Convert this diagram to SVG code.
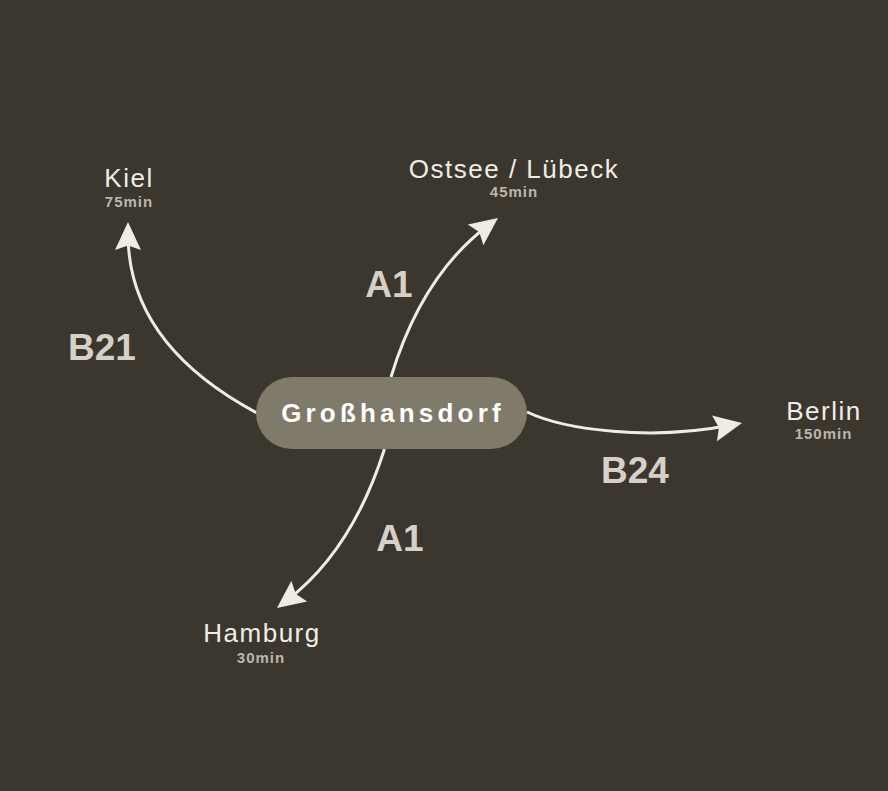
<svg xmlns="http://www.w3.org/2000/svg" width="888" height="791" viewBox="0 0 888 791">
  <defs>
    <style>
      .bg { fill: #3b372e; }
      .conn { fill: none; stroke: #efebe5; stroke-width: 3; }
      .pill { fill: #7f7a6a; }
      .hub { font-family: "Liberation Sans", Arial, sans-serif; font-weight: bold; font-size: 26px; letter-spacing: 4.2px; fill: #ffffff; text-anchor: middle; }
      .dest { font-family: "Liberation Sans", Arial, sans-serif; font-size: 26px; letter-spacing: 1.5px; fill: #f0ede7; text-anchor: middle; }
      .time { font-family: "Liberation Sans", Arial, sans-serif; font-weight: bold; font-size: 15px; letter-spacing: 1px; fill: #bcb6ac; text-anchor: middle; }
      .road { font-family: "Liberation Sans", Arial, sans-serif; font-weight: bold; font-size: 37px; fill: #d6d0c8; text-anchor: middle; }
    </style>
    <marker id="arrow" markerUnits="userSpaceOnUse" markerWidth="40" markerHeight="40" viewBox="-20 -20 40 40" refX="0" refY="0" orient="auto" overflow="visible">
      <path d="M12,0 L-16,-13 L-11.5,0 L-16,13 Z" fill="#efebe5"/>
    </marker>
  </defs>
  <rect class="bg" x="0" y="0" width="888" height="791"/>

  <g id="connectors">
    <path class="conn" d="M257,413 Q128,344 128,234" marker-end="url(#arrow)"/>
    <path class="conn" d="M391,377 Q422,275 488.4,225.2" marker-end="url(#arrow)"/>
    <path class="conn" d="M527,412 C565,430 650,441 730.2,425.3" marker-end="url(#arrow)"/>
    <path class="conn" d="M384.5,449 Q352,551 286.5,600.7" marker-end="url(#arrow)"/>
  </g>

  <g id="labels">
    <text class="road" x="102" y="360">B21</text>
    <text class="road" x="389" y="297">A1</text>
    <text class="road" x="635" y="483">B24</text>
    <text class="road" x="400" y="551">A1</text>
  </g>

  <g id="hub">
    <rect class="pill" x="256" y="377" width="271" height="72" rx="36" ry="36"/>
    <text class="hub" x="393" y="422">Großhansdorf</text>
  </g>

  <g id="kiel">
    <text class="dest" x="129" y="187">Kiel</text>
    <text class="time" x="129" y="207">75min</text>
  </g>
  <g id="ostsee">
    <text class="dest" x="514" y="178">Ostsee / Lübeck</text>
    <text class="time" x="514" y="197">45min</text>
  </g>
  <g id="berlin">
    <text class="dest" x="824" y="420">Berlin</text>
    <text class="time" x="823.5" y="439">150min</text>
  </g>
  <g id="hamburg">
    <text class="dest" x="262" y="642">Hamburg</text>
    <text class="time" x="261" y="663">30min</text>
  </g>
</svg>
